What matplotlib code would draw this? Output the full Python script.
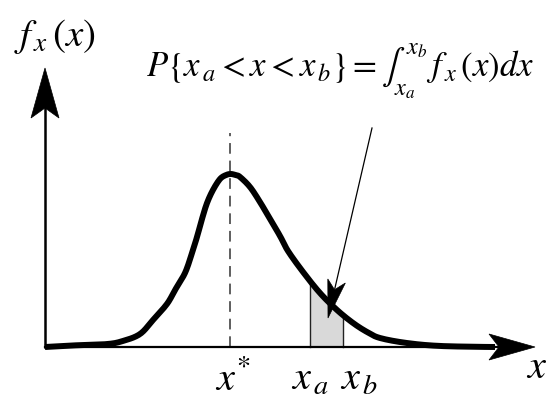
import numpy as np
import matplotlib
matplotlib.use("Agg")
import matplotlib.pyplot as plt
from matplotlib.patches import Polygon

plt.rcParams['mathtext.fontset'] = 'stix'
plt.rcParams['font.family'] = ['STIXGeneral', 'Liberation Serif', 'DejaVu Serif']

# ---- data (abstract units) ----
curve_x = [0.0, 0.56, 1.24, 1.56, 1.9, 2.16, 2.44, 2.6, 2.8, 2.94, 3.04, 3.14,
           3.24, 3.36, 3.5, 3.62, 3.72, 3.82, 3.9, 4.1, 4.3, 4.5, 4.7, 4.86,
           5.16, 5.5, 5.84, 6.16, 6.44, 6.7, 7.24, 7.9, 8.9]
curve_y = [0.0, 0.009, 0.017, 0.035, 0.075, 0.156, 0.249, 0.329, 0.428, 0.543,
           0.636, 0.74, 0.832, 0.908, 0.971, 0.994, 1.0, 0.993, 0.983, 0.925,
           0.838, 0.74, 0.642, 0.555, 0.434, 0.312, 0.214, 0.139, 0.087,
           0.052, 0.023, 0.006, 0.0]
x_mode = 3.7
x_a = 5.3
x_b = 5.96
mode_line_top = 1.237
tick_labels = [r"$x^{*}$", r"$x_{\,a}$", r"$x_{\,b}$"]

W, H = 558, 419
fig = plt.figure(figsize=(W / 100, H / 100), dpi=100)
ax = fig.add_axes([0, 0, 1, 1])
ax.set_axis_off()
# pixel scale: 50 px per x unit, 173 px per y unit; origin at (45, 347)
sx, sy = 50.0, 173.0
ax.set_xlim(-45 / sx, (W - 45) / sx)
ax.set_ylim(-(H - 347) / sy, 347 / sy)

def px(xp, yp):
    return (xp - 45) / sx, (347 - yp) / sy

def smooth_path(xv, yv, n=12):
    """Catmull-Rom rendering through the given points (display smoothing)."""
    P = np.column_stack([xv, yv]).astype(float)
    P = np.vstack([P[0], P, P[-1]])
    out = []
    t = np.linspace(0, 1, n, endpoint=False)[:, None]
    for i in range(1, len(P) - 2):
        p0, p1, p2, p3 = P[i - 1], P[i], P[i + 1], P[i + 2]
        seg = 0.5 * ((2 * p1) + (-p0 + p2) * t +
                     (2 * p0 - 5 * p1 + 4 * p2 - p3) * t ** 2 +
                     (-p0 + 3 * p1 - 3 * p2 + p3) * t ** 3)
        out.append(seg)
    out.append(P[-2][None, :])
    out = np.vstack(out)
    return out[:, 0], out[:, 1]

def arrowhead(tip, direction, length, width, notch):
    d = np.array(direction, float)
    d /= np.linalg.norm(d)
    n = np.array([-d[1], d[0]])
    tip_px = np.array([tip[0] * sx, tip[1] * sy])
    base = tip_px - d * length
    p1 = base + n * width / 2
    p2 = base - n * width / 2
    pn = tip_px - d * (length - notch)
    pts = np.array([tip_px, p1, pn, p2])
    pts[:, 0] /= sx
    pts[:, 1] /= sy
    ax.add_patch(Polygon(pts, closed=True, facecolor='black', edgecolor='black',
                         lw=0.5, zorder=6))

# axes lines
x_tip = (535 - 45) / sx
y_tip = (347 - 68) / sy
ax.plot([0, x_tip - 20 / sx], [0, 0], color='black', lw=1.6, zorder=3)
ax.plot([0, 0], [0, y_tip - 20 / sy], color='black', lw=1.8, zorder=3)
arrowhead((x_tip, 0), (1, 0), 46, 26, 10)
arrowhead((0, y_tip), (0, 1), 50, 28, 10)

# smooth rendering of the curve
cx, cy = smooth_path(curve_x, curve_y)

# shaded region
xs = np.linspace(x_a, x_b, 50)
ys = np.interp(xs, cx, cy)
ax.fill_between(xs, 0, ys, color='#d9d9d9', zorder=2, lw=0)
for xv in (x_a, x_b):
    ax.plot([xv, xv], [0, np.interp(xv, cx, cy)], color='#222222',
            lw=1.0, zorder=2.5)

# mode dashed line
ax.plot([x_mode, x_mode], [0, mode_line_top], color='#333333', lw=1.1,
        dashes=(7, 4.5), zorder=2)

# curve
ax.plot(np.append(cx, x_tip - 40 / sx), np.append(cy, 0.0), color='black',
        lw=4.3, solid_capstyle='butt', solid_joinstyle='round', zorder=4)

# annotation arrow
start = px(372, 128)
tip = px(328, 318)
d = np.array([(tip[0] - start[0]) * sx, (tip[1] - start[1]) * sy])
dn = d / np.linalg.norm(d)
line_end = (tip[0] - dn[0] * 30 / sx, tip[1] - dn[1] * 30 / sy)
ax.plot([start[0], line_end[0]], [start[1], line_end[1]], color='black',
        lw=0.9, zorder=5)
arrowhead(tip, dn, 38, 18, 9)

# texts
ax.text(*px(14, 46), r"$f_{\,x}\,(x)$", fontsize=28, ha='left', va='baseline')
ax.text(*px(146, 77),
        r"$P\{x_{\,a} < x < x_{\,b}\} = \int_{x_a}^{x_b}\, f_{\,x}\,(x)dx$",
        fontsize=25, ha='left', va='baseline')
label_px = [215, 291, 340]
for xp, lab in zip(label_px, tick_labels):
    ax.text(*px(xp, 390), lab, fontsize=29, ha='left', va='baseline')
ax.text(*px(526, 378), r"$x$", fontsize=29, ha='left', va='baseline')

fig.savefig("out.png", dpi=100)
